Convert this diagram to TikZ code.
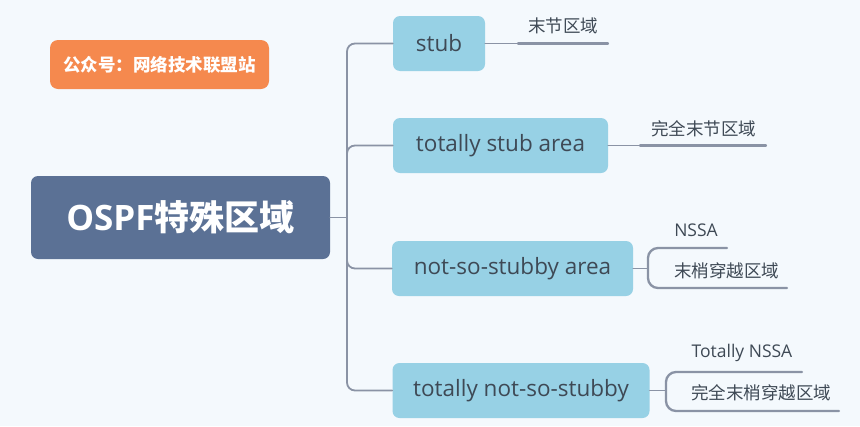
\documentclass[tikz,border=0pt]{standalone}
\usepackage{fontspec}
\setmainfont{Open Sans}
\newfontfamily\cjk{Noto Sans CJK SC}
\definecolor{bg}{HTML}{F4F9FD}
\definecolor{hubfill}{HTML}{5B7195}
\definecolor{leaf}{HTML}{97D1E5}
\definecolor{badge}{HTML}{F5894E}
\definecolor{ink}{HTML}{3E4955}
\definecolor{wire}{HTML}{8A93A5}
\tikzset{
  box/.style={rounded corners=7pt, inner sep=0pt, minimum height=55pt},
  area/.style={box, fill=leaf, text=ink, font=\fontsize{22.5}{26}\selectfont},
  tag/.style={text=ink, font=\fontsize{17.5}{20}\selectfont, inner sep=0pt},
  conn/.style={draw=wire, line width=1.8pt},
  uline/.style={draw=wire, line width=2.3pt},
}
\begin{document}
\begin{tikzpicture}[x=1pt,y=-1pt,line cap=round]
\fill[bg] (0,0) rectangle (860,426);
\useasboundingbox (0,0) rectangle (860,426);
\node[box, fill=badge, minimum width=219pt, minimum height=49pt, rounded corners=8pt, text=white, font=\cjk\bfseries\fontsize{17.5}{22}\selectfont] (wx) at (159.5,64.5) {公众号：网络技术联盟站};
\node[box, fill=hubfill, minimum width=299pt, minimum height=83pt, text=white, font=\bfseries\fontsize{35}{40}\selectfont] (ospf) at (180.5,217.5) {OSPF{\cjk 特殊区域}};
\node[area, minimum width=92pt] (stub) at (439,43.5) {stub};
\node[area, minimum width=215pt] (tstub) at (500.5,145.5) {totally stub area};
\node[area, minimum width=241pt] (nssa) at (512.5,268.5) {not-so-stubby area};
\node[area, minimum width=257pt] (tnssa) at (521,390.5) {totally not-so-stubby};
\coordinate (hub) at (347,217.5);
\draw[conn] (ospf.east) -- (hub);
\draw[conn, rounded corners=8pt] (stub.west) -| (hub) |- (tnssa.west);
\draw[conn, rounded corners=8pt] (hub) |- (tstub.west);
\draw[conn, rounded corners=8pt] (hub) |- (nssa.west);
\coordinate (s1) at (518,43.5);
\coordinate (s2) at (608,43.5);
\draw[conn] (stub.east) -- (s1);
\draw[uline] (s1) -- (s2);
\node[tag] (lstub) at (563,26) {\cjk 末节区域};
\coordinate (t1) at (640,145.5);
\coordinate (t2) at (766,145.5);
\draw[conn] (tstub.east) -- (t1);
\draw[uline] (t1) -- (t2);
\node[tag] (ltstub) at (703.5,129) {\cjk 完全末节区域};
\coordinate (n0) at (648,268.5);
\coordinate (n1) at (727,248);
\coordinate (n2) at (787,288);
\draw[conn] (nssa.east) -- (n0);
\draw[uline, rounded corners=10pt] (n1) -| (n0) |- (n2);
\node[tag] (lnssa) at (696,230) {NSSA};
\node[tag] (lnssacn) at (726.5,271) {\cjk 末梢穿越区域};
\coordinate (m0) at (666,390.5);
\coordinate (m1) at (802,372);
\coordinate (m2) at (839,411);
\draw[conn] (tnssa.east) -- (m0);
\draw[uline, rounded corners=10pt] (m1) -| (m0) |- (m2);
\node[tag] (ltnssa) at (742,353) {Totally NSSA};
\node[tag] (ltnssacn) at (761,393) {\cjk 完全末梢穿越区域};
\end{tikzpicture}
\end{document}
